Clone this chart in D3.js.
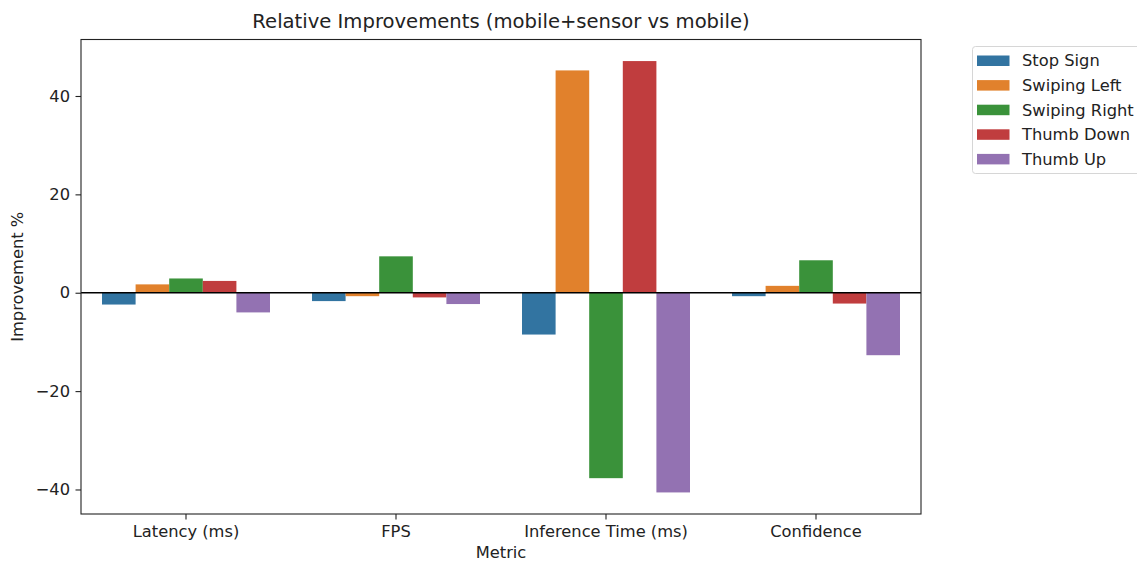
<!DOCTYPE html>
<html>
<head>
<meta charset="utf-8">
<script src="https://cdn.jsdelivr.net/npm/d3@7/dist/d3.min.js"></script>
<style>
  html, body { margin: 0; padding: 0; background: #fff; }
  svg { display: block; font-family: "DejaVu Sans", sans-serif; }
</style>
</head>
<body>
<svg id="chart" width="1137" height="561"></svg>
<script>
const metrics = ["Latency (ms)", "FPS", "Inference Time (ms)", "Confidence"];
const gestures = ["Stop Sign", "Swiping Left", "Swiping Right", "Thumb Down", "Thumb Up"];
const colors = ["#3274a1", "#e1812c", "#3a923a", "#c03d3e", "#9372b2"];
// improvement % per gesture, ordered as metrics
const stopSign     = [-2.4, -1.7, -8.5, -0.7];
const swipingLeft  = [1.7, -0.7, 45.2, 1.4];
const swipingRight = [2.9, 7.4, -37.7, 6.6];
const thumbDown    = [2.4, -0.95, 47.1, -2.2];
const thumbUp      = [-4.0, -2.3, -40.6, -12.7];
const yTicks = [-40, -20, 0, 20, 40];

const series = [stopSign, swipingLeft, swipingRight, thumbDown, thumbUp];

const FS = 16.3, TFS = 19.6;
const svg = d3.select("#chart");
const m = { left: 81, right: 921, top: 39.5, bottom: 514 };

const all = series.flat();
const lo = d3.min(all), hi = d3.max(all), pad = (hi - lo) * 0.05;
const y = d3.scaleLinear().domain([lo - pad, hi + pad]).range([m.bottom, m.top]);
const x0 = d3.scaleBand().domain(metrics).range([m.left, m.right]).paddingInner(0).paddingOuter(0);
const bw = x0.bandwidth() * 0.8;
const x1 = d3.scaleBand().domain(gestures).range([0, bw]);

// bars
const g = svg.append("g");
series.forEach((vals, si) => {
  g.selectAll(null).data(vals).enter().append("rect")
    .attr("x", (d, i) => x0(metrics[i]) + x0.bandwidth() * 0.1 + x1(gestures[si]))
    .attr("width", x1.bandwidth())
    .attr("y", d => y(Math.max(0, d)))
    .attr("height", d => Math.abs(y(d) - y(0)))
    .attr("fill", colors[si]);
});

// zero line
svg.append("line")
  .attr("x1", m.left).attr("x2", m.right)
  .attr("y1", y(0)).attr("y2", y(0))
  .attr("stroke", "#000").attr("stroke-width", 1.4);

// frame
svg.append("rect")
  .attr("x", m.left).attr("y", m.top)
  .attr("width", m.right - m.left).attr("height", m.bottom - m.top)
  .attr("fill", "none").attr("stroke", "#222").attr("stroke-width", 1.1);

// y axis
const yAxis = svg.append("g").attr("transform", `translate(${m.left},0)`)
  .call(d3.axisLeft(y).tickValues(yTicks).tickSize(5.5).tickPadding(5.5)
    .tickFormat(d => d < 0 ? "\u2212" + Math.abs(d) : d));
yAxis.select(".domain").remove();
yAxis.selectAll("text").attr("font-size", FS).attr("fill", "#222").attr("font-family", "DejaVu Sans");
yAxis.selectAll("line").attr("stroke", "#222").attr("stroke-width", 1.1);

// x axis
const xAxis = svg.append("g").attr("transform", `translate(0,${m.bottom})`)
  .call(d3.axisBottom(x0).tickSize(5.5).tickPadding(5.5));
xAxis.select(".domain").remove();
xAxis.selectAll("text").attr("font-size", FS).attr("fill", "#222").attr("font-family", "DejaVu Sans");
xAxis.selectAll("line").attr("stroke", "#222").attr("stroke-width", 1.1);

// titles
svg.append("text").attr("x", (m.left + m.right) / 2).attr("y", 28)
  .attr("text-anchor", "middle").attr("font-size", TFS).attr("fill", "#222")
  .text("Relative Improvements (mobile+sensor vs mobile)");
svg.append("text").attr("x", (m.left + m.right) / 2).attr("y", 558)
  .attr("text-anchor", "middle").attr("font-size", FS).attr("fill", "#222")
  .text("Metric");
svg.append("text").attr("transform", `translate(23,${(m.top + m.bottom) / 2}) rotate(-90)`)
  .attr("text-anchor", "middle").attr("font-size", FS).attr("fill", "#222")
  .text("Improvement %");

// legend
const lg = svg.append("g");
lg.append("rect").attr("x", 972.5).attr("y", 46.5).attr("width", 180).attr("height", 127)
  .attr("rx", 3).attr("fill", "#fff").attr("stroke", "#d6d6d6").attr("stroke-width", 1);
gestures.forEach((name, i) => {
  const cy = 60.5 + i * 24.6;
  lg.append("rect").attr("x", 977).attr("y", cy - 5).attr("width", 32.5).attr("height", 10.5)
    .attr("fill", colors[i]);
  lg.append("text").attr("x", 1022).attr("y", cy + 5.8).attr("font-size", FS).attr("fill", "#222")
    .text(name);
});
</script>
</body>
</html>
